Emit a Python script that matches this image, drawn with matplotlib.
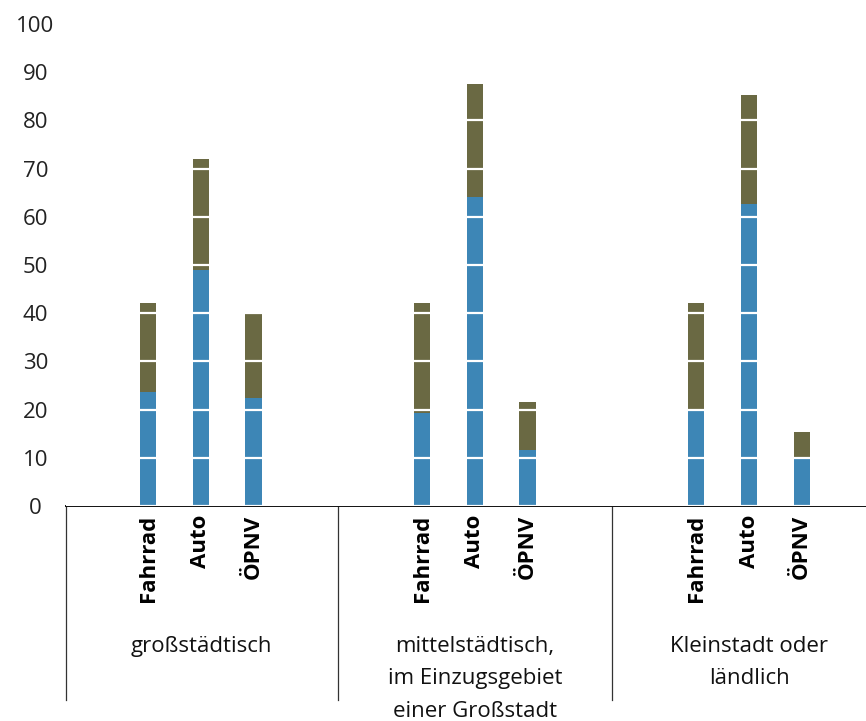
import matplotlib
matplotlib.use("Agg")
import matplotlib.pyplot as plt
import matplotlib.transforms as mtransforms
import numpy as np

groups = ["großstädtisch", "mittelstädtisch,\nim Einzugsgebiet\neiner Großstadt", "Kleinstadt oder\nländlich"]
modes = ["Fahrrad", "Auto", "ÖPNV"]
# bottom (blue) segment and top (olive) segment per group, per mode
blue_vals = [[23.6, 49.0, 22.4], [19.3, 64.1, 11.6], [19.9, 62.7, 9.8]]
olive_vals = [[18.5, 23.0, 17.4], [22.8, 23.5, 10.0], [22.2, 22.6, 5.6]]
yticks = [0, 10, 20, 30, 40, 50, 60, 70, 80, 90, 100]

BLUE = "#3d86b6"
OLIVE = "#6a6943"
plt.rcParams["font.family"] = ["Open Sans", "DejaVu Sans"]

fig = plt.figure(figsize=(8.66, 7.21), dpi=100)
ax = fig.add_axes([66 / 866, 215 / 721, 800 / 866, 482 / 721])

gstep = 5.2
xs, bl, ol, labels = [], [], [], []
for g in range(len(groups)):
    for i, m in enumerate(modes):
        xs.append(g * gstep + (i - 1))
        bl.append(blue_vals[g][i])
        ol.append(olive_vals[g][i])
        labels.append(m)
xs = np.array(xs)
bl = np.array(bl)
ol = np.array(ol)

ax.bar(xs, bl, width=0.31, color=BLUE, zorder=2)
ax.bar(xs, ol, bottom=bl, width=0.31, color=OLIVE, zorder=2)

ax.set_ylim(0, 100)
ax.set_xlim(-2.56, 12.62)
ax.set_yticks(yticks)
ax.set_yticklabels([str(t) for t in yticks], ha="center")
ax.tick_params(axis="y", length=0, pad=22, labelsize=16, labelcolor="#222222")
ax.yaxis.grid(True, color="white", linewidth=1.6, zorder=3)
ax.set_axisbelow(False)

ax.set_xticks(xs)
ax.set_xticklabels(labels, rotation=90, fontsize=16, fontweight="bold", va="top", ha="center")
ax.tick_params(axis="x", length=0, pad=6)

for s in ["top", "right", "left"]:
    ax.spines[s].set_visible(False)
ax.spines["bottom"].set_linewidth(1.4)
ax.spines["bottom"].set_color("#111111")

trans = mtransforms.blended_transform_factory(ax.transData, ax.transAxes)
seps = [-2.56, gstep / 2, gstep * 1.5]
for sx in seps:
    ax.plot([sx, sx], [0, -0.403], transform=trans, color="#333333", linewidth=0.9, clip_on=False)

for g, name in enumerate(groups):
    ax.text(g * gstep, -0.27, name, transform=trans, ha="center", va="top",
            fontsize=16, linespacing=1.7, color="#111111")

fig.savefig("out.png", dpi=100)
